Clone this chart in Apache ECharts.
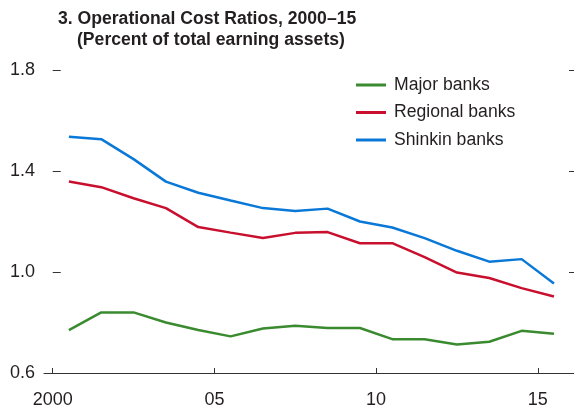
<!DOCTYPE html>
<html><head><meta charset="utf-8">
<script src="https://cdn.jsdelivr.net/npm/echarts@6/dist/echarts.min.js"></script>
<style>html,body{margin:0;padding:0;background:#fff}#c{width:574px;height:413px}</style>
</head><body><div id="c"></div>
<script>
const years = [2000,2001,2002,2003,2004,2005,2006,2007,2008,2009,2010,2011,2012,2013,2014,2015];
const majorBanks    = [0.77,0.84,0.84,0.80,0.77,0.745,0.776,0.787,0.778,0.778,0.734,0.734,0.713,0.724,0.767,0.755];
const regionalBanks = [1.358,1.336,1.292,1.253,1.178,1.156,1.135,1.155,1.158,1.114,1.114,1.059,0.998,0.976,0.936,0.903];
const shinkinBanks  = [1.536,1.526,1.447,1.358,1.314,1.283,1.253,1.242,1.251,1.200,1.176,1.134,1.084,1.041,1.051,0.954];
const xTickYears = [2000,2005,2010,2015];
const xTickLabels = ['2000','05','10','15'];

const FONT = '"Liberation Sans",Arial,sans-serif';
const TXT = '#231f20';
const pos = y => y - years[0];
const toPts = arr => arr.map((v,i)=>[pos(years[i]) + 0.5, v]);

const chart = echarts.init(document.getElementById('c'), null, {renderer:'canvas'});
chart.setOption({
  animation:false,
  title:[
    {text:'3. Operational Cost Ratios, 2000–15', left:58, top:10, padding:0,
     textStyle:{fontFamily:FONT,fontWeight:'bold',fontSize:17.6,color:TXT}},
    {text:'(Percent of total earning assets)', left:77, top:31, padding:0,
     textStyle:{fontFamily:FONT,fontWeight:'bold',fontSize:17.6,color:TXT}}
  ],
  legend:{
    orient:'vertical', left:351, top:71, itemWidth:30, itemHeight:3, itemGap:9.5, icon:'rect',
    textStyle:{fontFamily:FONT,fontSize:17.6,color:TXT,padding:[0,0,0,3]},
    data:['Major banks','Regional banks','Shinkin banks']
  },
  grid:{left:44,right:0,top:70,bottom:40,containLabel:false},
  xAxis:{
    type:'value', min:-0.27, max:16.12,
    axisLine:{show:true,lineStyle:{color:'#333',width:1}},
    axisTick:{show:true,inside:true,length:5,lineStyle:{color:'#333'},customValues:xTickYears.map(pos)},
    axisLabel:{show:true,customValues:xTickYears.map(pos),margin:18,fontFamily:FONT,fontSize:18,color:TXT,
      formatter:v=>{const i=xTickYears.map(pos).indexOf(Math.round(v));return i>=0?xTickLabels[i]:'';}},
    splitLine:{show:false}
  },
  yAxis:[
    {type:'value', min:0.6, max:1.8, interval:0.4, position:'left',
     axisLine:{show:false},
     axisTick:{show:true,inside:true,length:8,lineStyle:{color:'#333'}},
     axisLabel:{margin:9,fontFamily:FONT,fontSize:18,color:TXT,formatter:v=>v.toFixed(1)},
     splitLine:{show:false}},
    {type:'value', min:0.6, max:1.8, interval:0.4, position:'right',
     axisLine:{show:false},
     axisTick:{show:true,inside:true,length:5,lineStyle:{color:'#333'}},
     axisLabel:{show:false}, splitLine:{show:false}}
  ],
  series:[
    {name:'Major banks',type:'line',data:toPts(majorBanks),symbol:'none',color:'#3a8a2f',lineStyle:{width:2.5,color:'#3a8a2f'}},
    {name:'Regional banks',type:'line',data:toPts(regionalBanks),symbol:'none',color:'#c8102e',lineStyle:{width:2.5,color:'#c8102e'}},
    {name:'Shinkin banks',type:'line',data:toPts(shinkinBanks),symbol:'none',color:'#0a78d7',lineStyle:{width:2.5,color:'#0a78d7'}}
  ]
});
</script></body></html>
